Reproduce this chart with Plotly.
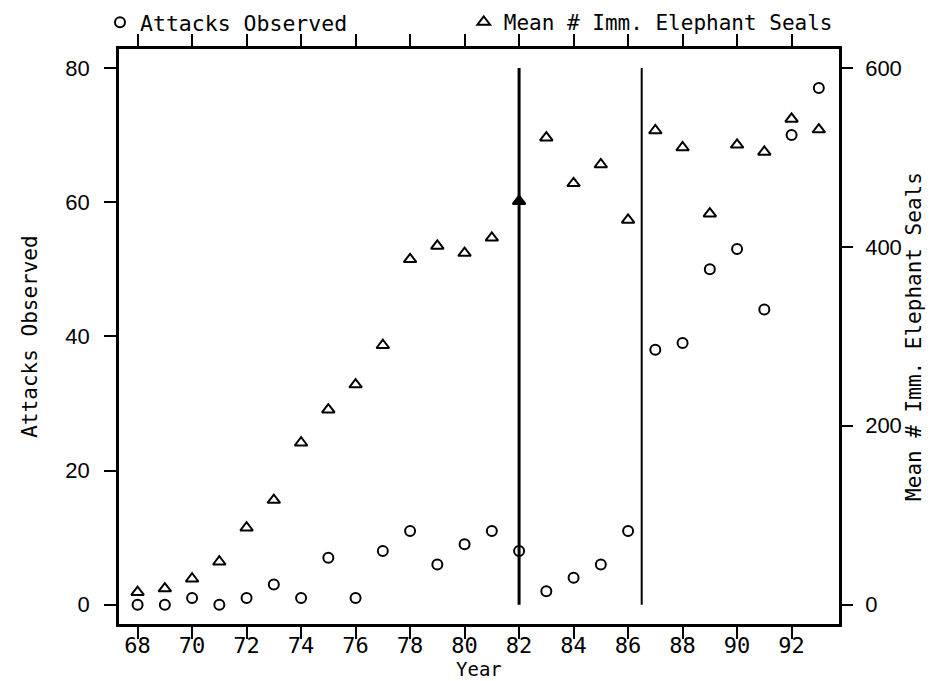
import plotly.graph_objects as go

years = list(range(68, 94))
attacks = [0, 0, 1, 0, 1, 3, 1, 7, 1, 8, 11, 6, 9, 11, 8, 2, 4, 6, 11, 38, 39, 50, 53, 44, 70, 77]
seals = [14, 18, 29, 48, 86, 117, 181, 218, 246, 290, 386, 401, 393, 410, 451,
         522, 471, 492, 430, 530, 511, 437, 514, 506, 543, 531]
period_breaks = [82, 86.5]
x_ticks = list(range(68, 93, 2))
left_ticks = [0, 20, 40, 60, 80]
right_ticks = [0, 200, 400, 600]

MONO = "DejaVu Sans Mono"
SANS = "Liberation Sans, Arial"

seal_symbols = ["triangle-up" if y == 82 else "triangle-up-open" for y in years]

fig = go.Figure()
fig.add_trace(go.Scatter(
    x=years, y=attacks, mode="markers", name="Attacks Observed",
    marker=dict(symbol="circle-open", size=10, color="black", line=dict(width=2, color="black")),
    yaxis="y", legend="legend",
))
fig.add_trace(go.Scatter(
    x=years, y=seals, mode="markers", name="Mean # Imm. Elephant Seals",
    marker=dict(symbol=seal_symbols, size=11, color="black", line=dict(width=2, color="black")),
    yaxis="y2", legend="legend2",
))

for i, b in enumerate(period_breaks):
    fig.add_shape(type="line", xref="x", yref="y", x0=b, x1=b, y0=0, y1=80,
                  line=dict(color="black", width=3 if i == 0 else 2))

legend_common = dict(orientation="h", yanchor="middle", xanchor="left",
                     bgcolor="rgba(0,0,0,0)", itemclick=False, itemdoubleclick=False)

fig.add_annotation(text="Year", xref="paper", yref="paper", x=0.5, y=-0.0777,
                   xanchor="center", yanchor="middle", showarrow=False, borderpad=0,
                   font=dict(family=MONO, size=19, color="black"))

fig.update_layout(
    width=943, height=681,
    margin=dict(l=119, r=104, t=49, b=57, autoexpand=False),
    paper_bgcolor="white", plot_bgcolor="white",
    showlegend=True,
    legend=dict(x=-0.0264, y=1.0464, font=dict(family=MONO, size=21.5, color="black"), **legend_common),
    legend2=dict(x=0.4788, y=1.0464, font=dict(family=MONO, size=21, color="black"), **legend_common),
    xaxis=dict(
        range=[67.318, 93.74], tickvals=x_ticks, ticktext=[str(t) for t in x_ticks],
        showline=True, linecolor="black", linewidth=2.5, mirror="ticks",
        ticks="outside", ticklen=12, tickwidth=2, tickcolor="black",
        showgrid=False, zeroline=False, ticklabelstandoff=-12, automargin=False,
        tickfont=dict(family=MONO, size=22, color="black"),
    ),
    yaxis=dict(
        range=[-2.876, 82.82], tickvals=left_ticks,
        showline=True, linecolor="black", linewidth=2.5,
        ticks="outside", ticklen=12, tickwidth=2, tickcolor="black",
        showgrid=False, zeroline=False, ticklabelstandoff=10, automargin=False,
        tickfont=dict(family=SANS, size=22, color="black"),
        title=dict(text="Attacks Observed", font=dict(family=MONO, size=21, color="black"), standoff=23),
    ),
    yaxis2=dict(
        range=[-21.57, 621.1], tickvals=right_ticks, overlaying="y", side="right",
        showline=True, linecolor="black", linewidth=2.5,
        ticks="outside", ticklen=11, tickwidth=2, tickcolor="black",
        showgrid=False, zeroline=False, ticklabelstandoff=8, automargin=False,
        tickfont=dict(family=SANS, size=22, color="black"),
        title=dict(text="Mean # Imm. Elephant Seals", font=dict(family=MONO, size=21, color="black"), standoff=0),
    ),
)

fig.write_html("out.html", config={"displayModeBar": False},
               post_script="document.body.style.margin='0';")
